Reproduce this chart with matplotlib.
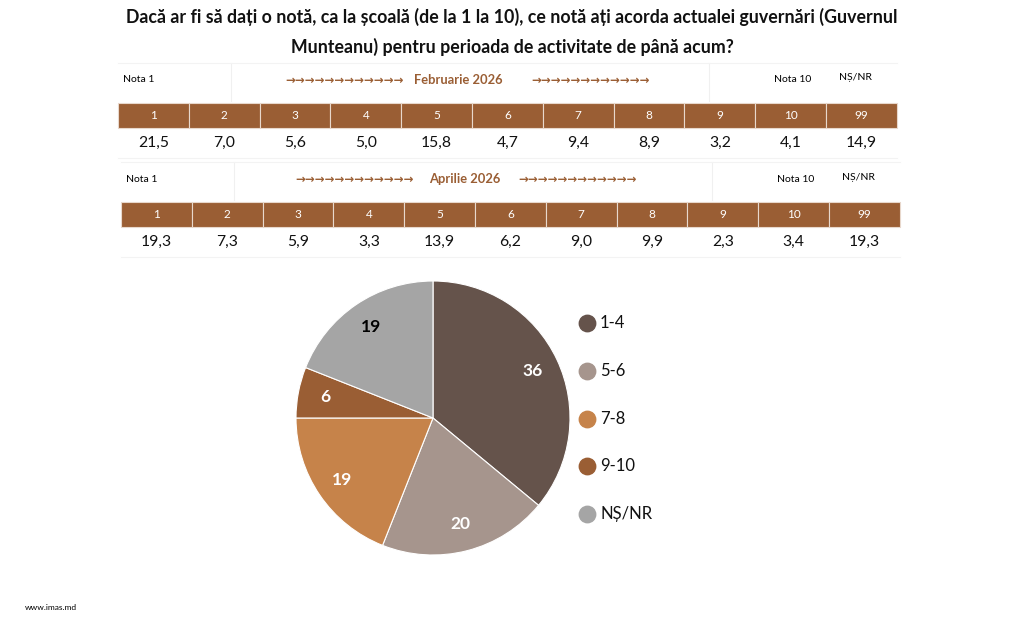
import matplotlib
matplotlib.use("Agg")
import matplotlib.pyplot as plt
from matplotlib.patches import Rectangle

plt.rcParams['font.family'] = ['Lato', 'DejaVu Sans']

title = ("Dacă ar fi să dați o notă, ca la școală (de la 1 la 10), ce notă ați acorda actualei guvernări (Guvernul\n"
         "Munteanu) pentru perioada de activitate de până acum?")

grades = ["1", "2", "3", "4", "5", "6", "7", "8", "9", "10", "99"]
feb_vals = [21.5, 7.0, 5.6, 5.0, 15.8, 4.7, 9.4, 8.9, 3.2, 4.1, 14.9]
apr_vals = [19.3, 7.3, 5.9, 3.3, 13.9, 6.2, 9.0, 9.9, 2.3, 3.4, 19.3]
periods = ["Februarie 2026", "Aprilie 2026"]

pie_labels = ["1-4", "5-6", "7-8", "9-10", "NȘ/NR"]
pie_vals = [36, 20, 19, 6, 19]
pie_colors = ["#65534B", "#A6958D", "#C6834A", "#9A5E34", "#A5A5A5"]
pie_text_colors = ["white", "white", "white", "white", "black"]

brown = "#9A5E34"
W, H = 1024, 619

fig = plt.figure(figsize=(W / 100, H / 100), dpi=100)
ax = fig.add_axes([0, 0, 1, 1])
ax.set_xlim(0, W)
ax.set_ylim(H, 0)
ax.axis("off")

ax.text(512, 32, title, ha="center", va="center", fontsize=12.75, fontweight="bold",
        linespacing=1.75, color="#111111")


def draw_table(vals, period, top, x0, mid, left_end, right_start):
    cw = 70.8
    # top row: labels
    ax.text(x0 + 5, top + 17, "Nota 1", fontsize=7.5, va="center")
    ax.text(x0 + 9 * cw + 19, top + 17, "Nota 10", fontsize=7.5, va="center")
    ax.text(x0 + 10 * cw + 13, top + 15, "NȘ/NR", fontsize=7.5, va="center")
    arrows = "→" * 12
    ax.text(mid, top + 17, period, ha="center", va="center", fontsize=9.3,
            fontweight="bold", color=brown)
    ax.text(left_end, top + 17, arrows, ha="right", va="center", fontsize=8.5,
            color=brown, fontweight="bold", family=["DejaVu Sans"])
    ax.text(right_start, top + 17, arrows, ha="left", va="center", fontsize=8.5,
            color=brown, fontweight="bold", family=["DejaVu Sans"])
    # faint grid lines of the top row
    for xx in [x0 + 1.6 * cw, x0 + 8.35 * cw]:
        ax.plot([xx, xx], [top, top + 38], color="#F0F0F0", lw=0.8)
    ax.plot([x0, x0 + 11 * cw], [top, top], color="#F3F3F3", lw=0.8)
    # header band
    hy = top + 40
    for i, g in enumerate(grades):
        ax.add_patch(Rectangle((x0 + i * cw, hy), cw, 25, facecolor=brown,
                               edgecolor="#E8D8CC", lw=0.8))
        ax.text(x0 + (i + 0.5) * cw, hy + 12.5, g, ha="center", va="center",
                fontsize=8.5, color="white")
        ax.text(x0 + (i + 0.5) * cw, hy + 40, f"{vals[i]:.1f}".replace(".", ","),
                ha="center", va="center", fontsize=11.3, color="#111111")
    ax.plot([x0, x0 + 11 * cw], [hy + 55, hy + 55], color="#F3F3F3", lw=0.8)


draw_table(feb_vals, periods[0], 63, 118, 458, 404, 531)
draw_table(apr_vals, periods[1], 162, 121, 465, 414, 518)

# pie chart
cx, cy, r = 433, 418, 137
pax = fig.add_axes([(cx - r) / W, (H - cy - r) / H, 2 * r / W, 2 * r / H])
wedges, texts = pax.pie(pie_vals, colors=pie_colors, startangle=90, counterclock=False,
                        labels=[str(v) for v in pie_vals], labeldistance=0.8,
                        wedgeprops=dict(edgecolor="white", linewidth=0.8))
for t, c in zip(texts, pie_text_colors):
    t.set_color(c)
    t.set_fontsize(12.5)
    t.set_fontweight("bold")
    t.set_ha("center")
    t.set_va("center")
pax.set_xlim(-1, 1)
pax.set_ylim(-1, 1)
pax.set_aspect("equal")

# legend
for i, (lab, col) in enumerate(zip(pie_labels, pie_colors)):
    ly = 323 + i * 47.8
    ax.scatter([587], [ly], s=140, color=col, zorder=3)
    ax.text(600, ly, lab, va="center", fontsize=12, color="#111111")

ax.text(25, 607, "www.imas.md", fontsize=6, va="center")

fig.savefig("out.png", dpi=100)
